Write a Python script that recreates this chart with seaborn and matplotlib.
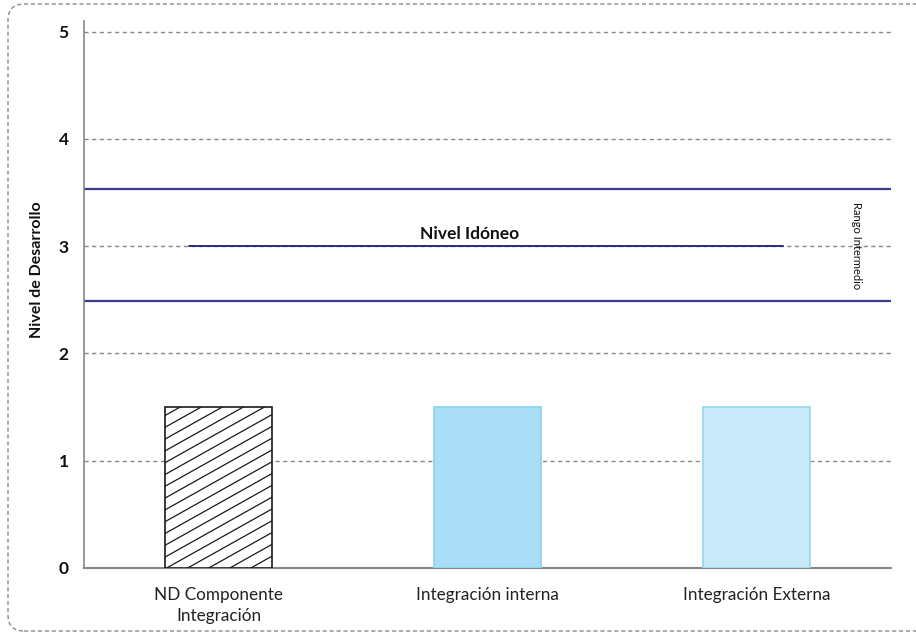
import numpy as np
import matplotlib
matplotlib.use("Agg")
import matplotlib.pyplot as plt
from matplotlib.patches import FancyBboxPatch
import seaborn as sns

# Data
categories = ["ND Componente\nIntegración", "Integración interna", "Integración Externa"]
values = [1.5, 1.5, 1.5]
bar_colors = ["#ffffff", "#a9def6", "#c7e9f8"]
edge_colors = ["#1a1a1a", "#8ad2f0", "#95d5f2"]
ideal_level = 3.0
range_low = 2.49
range_high = 3.53
yticks = [0, 1, 2, 3, 4, 5]

sns.set_theme(style="white")
plt.rcParams["font.family"] = ["Lato", "DejaVu Sans"]

W, H = 916, 635
fig = plt.figure(figsize=(W / 100, H / 100), dpi=100)
ax = fig.add_axes([84 / W, (H - 568) / H, (891 - 84) / W, (568 - 21) / H])

sns.barplot(x=categories, y=values, hue=categories, palette=bar_colors,
            saturation=1, width=0.4, legend=False, ax=ax, zorder=3)

for patch, ec in zip(ax.patches, edge_colors):
    patch.set_edgecolor(ec)
    patch.set_linewidth(1.2)

# Diagonal hatching on the first bar, clipped to its rectangle
first = ax.patches[0]
x0, w = first.get_x(), first.get_width()
xs = np.array([x0 - 0.1, x0 + w + 0.1])
for c in np.arange(-1.0, 2.0, 0.11):
    line, = ax.plot(xs, c + 1.405 * (xs - x0), color="#1a1a1a", lw=0.9, zorder=4)
    line.set_clip_path(first)

ax.set_xlim(-0.5, 2.5)
ax.set_ylim(0, 5.1)
ax.set_yticks(yticks)
ax.set_yticklabels([str(t) for t in yticks], fontsize=12.5, fontweight="bold", color="#111111")
ax.tick_params(axis="y", length=4, color="#888888", width=1, pad=7)
ax.tick_params(axis="x", length=0, labelsize=12.3, labelcolor="#222222", pad=14)
for lbl in ax.get_xticklabels():
    lbl.set_linespacing(1.35)

# Dashed horizontal grid
for t in yticks[1:]:
    ax.axhline(t, color="#888888", lw=1, ls=(0, (3, 2.5)), zorder=1)

for side in ["top", "right"]:
    ax.spines[side].set_visible(False)
ax.spines["left"].set_color("#888888")
ax.spines["bottom"].set_color("#888888")
ax.spines["left"].set_linewidth(1.2)
ax.spines["bottom"].set_linewidth(1.5)

ax.set_ylabel("Nivel de Desarrollo", fontsize=11.5, fontweight="bold", color="#111111")
ax.yaxis.set_label_coords(-0.05, 0.545)

# Reference lines
ax.axhline(range_high, color="#3b3b8f", lw=1.6, zorder=2)
ax.axhline(range_low, color="#3b3b8f", lw=1.6, zorder=2)
ax.plot([-0.11, 2.10], [ideal_level, ideal_level], color="#2a2a80", lw=1.4, zorder=2)
ax.text(0.935, ideal_level + 0.04, "Nivel Idóneo", ha="center", va="bottom",
        fontsize=12.5, fontweight="bold", color="#111111")
ax.text(2.372, (range_low + range_high) / 2, "Rango Intermedio", rotation=-90,
        ha="center", va="center", fontsize=8, color="#111111", zorder=5)

# Rounded dashed frame around the figure
frame = FancyBboxPatch((8, 4), 1000, 627, boxstyle="round,pad=0,rounding_size=16",
                       transform=None, fill=False, ec="#8a8a8a", lw=1,
                       ls=(0, (3, 2)))
fig.patches.append(frame)

fig.savefig("out.png", dpi=100)
